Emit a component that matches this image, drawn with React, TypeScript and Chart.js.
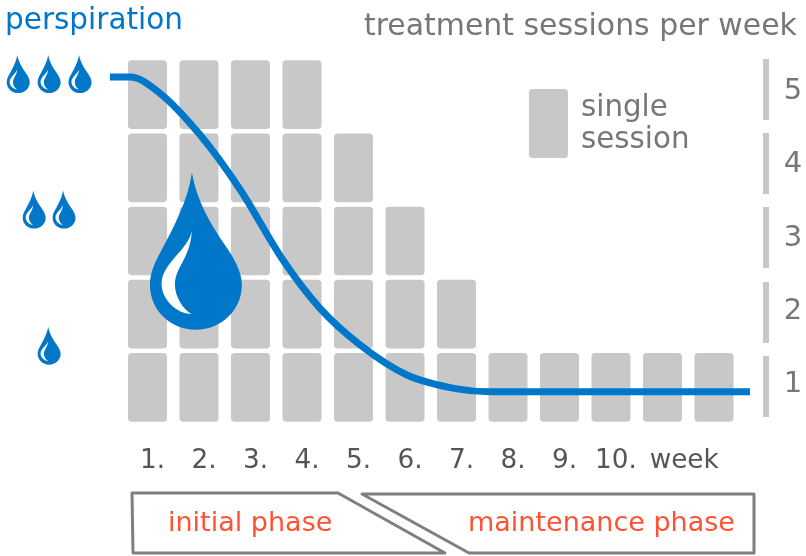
import React, { useEffect, useRef } from "react";
import { Chart, registerables } from "chart.js";

Chart.register(...registerables);

// ---- data ----
const weekLabels = ["1.", "2.", "3.", "4.", "5.", "6.", "7.", "8.", "9.", "10.", "    week", ""];
const sessionsPerWeek = [5, 5, 5, 5, 4, 3, 2, 1, 1, 1, 1, 1];
const sessionLevels = [1, 2, 3, 4, 5];
const perspirationWeek = [0.27, 0.66, 1.24, 2.02, 2.8, 3.63, 4.35, 5.13, 6.04, 7.01, 7.65, 12.7];
const perspirationLevel = [4.74, 4.74, 4.52, 3.95, 3.2, 2.24, 1.58, 1.08, 0.67, 0.48, 0.44, 0.44];
const smallDropX = [-1.51, -0.91, -0.31, -1.2, -0.62, -0.91];
const smallDropY = [4.78, 4.78, 4.78, 2.93, 2.93, 1.07];
const bigDropX = [1.94];
const bigDropY = [2.36];

// ---- style ----
const BLUE = "#0077c8";
const GREY = "#c8c8c8";
const TEXT = "#777777";
const DARK = "#555555";
const RED = "#ff5233";
const FONT = "'DejaVu Sans', sans-serif";

function drawDrop(g: CanvasRenderingContext2D, cx: number, cy: number, w: number, h: number) {
  g.save();
  g.translate(cx - w / 2, cy - h / 2);
  g.scale(w / 276, h / 472);
  g.translate(-90, -38);
  g.fillStyle = BLUE;
  g.beginPath();
  g.moveTo(216, 38);
  g.bezierCurveTo(205, 120, 160, 205, 120, 280);
  g.bezierCurveTo(105, 308, 90, 340, 90, 375);
  g.bezierCurveTo(90, 450, 150, 510, 228, 510);
  g.bezierCurveTo(305, 510, 366, 450, 366, 375);
  g.bezierCurveTo(366, 335, 340, 290, 315, 255);
  g.bezierCurveTo(270, 190, 230, 120, 216, 38);
  g.closePath();
  g.fill();
  g.fillStyle = "#ffffff";
  g.beginPath();
  g.moveTo(216, 212);
  g.bezierCurveTo(205, 270, 125, 310, 125, 372);
  g.bezierCurveTo(125, 420, 170, 462, 215, 463);
  g.bezierCurveTo(190, 450, 165, 410, 165, 375);
  g.bezierCurveTo(165, 320, 210, 300, 216, 212);
  g.closePath();
  g.fill();
  g.restore();
}

const drops = {
  id: "drops",
  beforeDatasetDraw(chart: any, args: any) {
    if (args.meta.type !== "line") return;
    const { ctx } = chart;
    const xs = chart.scales.xLine;
    const ys = chart.scales.y;
    smallDropX.forEach((x, i) =>
      drawDrop(ctx, xs.getPixelForValue(x), ys.getPixelForValue(smallDropY[i]), 23, 38)
    );
    bigDropX.forEach((x, i) =>
      drawDrop(ctx, xs.getPixelForValue(x), ys.getPixelForValue(bigDropY[i]), 92, 157)
    );
  },
};

const decorations = {
  id: "decorations",
  afterDraw(chart: any) {
    const { ctx } = chart;
    ctx.save();
    ctx.textBaseline = "alphabetic";
    ctx.textAlign = "left";

    ctx.font = `29.5px ${FONT}`;
    ctx.fillStyle = BLUE;
    ctx.fillText("perspiration", 5, 29);
    ctx.font = `29.9px ${FONT}`;
    ctx.fillStyle = TEXT;
    ctx.fillText("treatment sessions per week", 364, 35);
    ctx.font = `29.3px ${FONT}`;
    ctx.fillText("single", 581, 116);
    ctx.fillText("session", 581, 148);

    // legend swatch
    ctx.fillStyle = GREY;
    ctx.beginPath();
    ctx.roundRect(529, 89, 39, 69, 3.5);
    ctx.fill();

    // bars beside the right-hand axis
    [59, 133, 207, 282, 356].forEach((top) => ctx.fillRect(763, top, 6, 61));

    // phase boxes
    ctx.strokeStyle = "#7f7f7f";
    ctx.lineWidth = 3;
    ctx.lineJoin = "round";
    ctx.beginPath();
    ctx.moveTo(132, 493);
    ctx.lineTo(338, 493);
    ctx.lineTo(445, 553);
    ctx.lineTo(133, 553);
    ctx.closePath();
    ctx.stroke();
    ctx.beginPath();
    ctx.moveTo(362, 494);
    ctx.lineTo(754, 494);
    ctx.lineTo(754, 553);
    ctx.lineTo(469, 553);
    ctx.closePath();
    ctx.stroke();

    ctx.font = `27px ${FONT}`;
    ctx.fillStyle = RED;
    ctx.fillText("initial phase", 168, 531);
    ctx.fillText("maintenance phase", 468, 531);
    ctx.restore();
  },
};

export default function App() {
  const ref = useRef<HTMLCanvasElement>(null);
  useEffect(() => {
    document.body.style.margin = "0";
    const bars = sessionLevels.map((k) => ({
      type: "bar" as const,
      label: `session ${k}`,
      data: sessionsPerWeek.map((n) => (n >= k ? [k - 1, k] : null)),
      backgroundColor: GREY,
      borderColor: "rgba(0,0,0,0)",
      borderWidth: 2.25,
      borderRadius: 6,
      borderSkipped: false,
      inflateAmount: 0,
      barPercentage: 0.845,
      categoryPercentage: 1,
      grouped: false,
      order: 2,
    }));
    const chart = new Chart(ref.current!, {
      type: "bar",
      data: {
        labels: weekLabels,
        datasets: [
          ...bars,
          {
            type: "line",
            label: "perspiration",
            xAxisID: "xLine",
            data: perspirationWeek.map((x, i) => ({ x, y: perspirationLevel[i] })),
            borderColor: BLUE,
            borderWidth: 7,
            pointRadius: 0,
            cubicInterpolationMode: "monotone",
            clip: false,
            order: 0,
          },
        ] as any,
      },
      options: {
        animation: false,
        responsive: false,
        layout: { padding: { left: 121.75, top: 58, right: 0, bottom: 0 } },
        plugins: { legend: { display: false }, tooltip: { enabled: false } },
        scales: {
          x: {
            type: "category",
            offset: true,
            border: { display: false },
            grid: { display: false },
            afterFit(s: any) { s.height = 132; s.paddingLeft = 0; s.paddingRight = 0; },
            ticks: {
              autoSkip: false,
              maxRotation: 0,
              padding: 13,
              labelOffset: 5,
              color: DARK,
              font: { family: "'DejaVu Sans', sans-serif", size: 26.3 },
            },
          },
          xLine: { type: "linear", display: false, offset: false, min: 0.5, max: 12.5 },
          y: {
            type: "linear",
            position: "right",
            min: 0,
            max: 5,
            border: { display: false },
            grid: { display: false },
            afterFit(s: any) { s.width = 66.25; s.paddingTop = 0; s.paddingBottom = 0; },
            afterBuildTicks(s: any) {
              s.ticks = sessionLevels.map((k) => ({ value: k - 0.5 }));
            },
            ticks: {
              callback: (v: any) => String(v + 0.5),
              padding: 36,
              labelOffset: -3,
              color: TEXT,
              font: { family: "'DejaVu Sans', sans-serif", size: 29 },
            },
          },
        },
      } as any,
      plugins: [drops, decorations],
    });
    return () => chart.destroy();
  }, []);
  return <canvas ref={ref} width={806} height={556} style={{ display: "block" }} />;
}
